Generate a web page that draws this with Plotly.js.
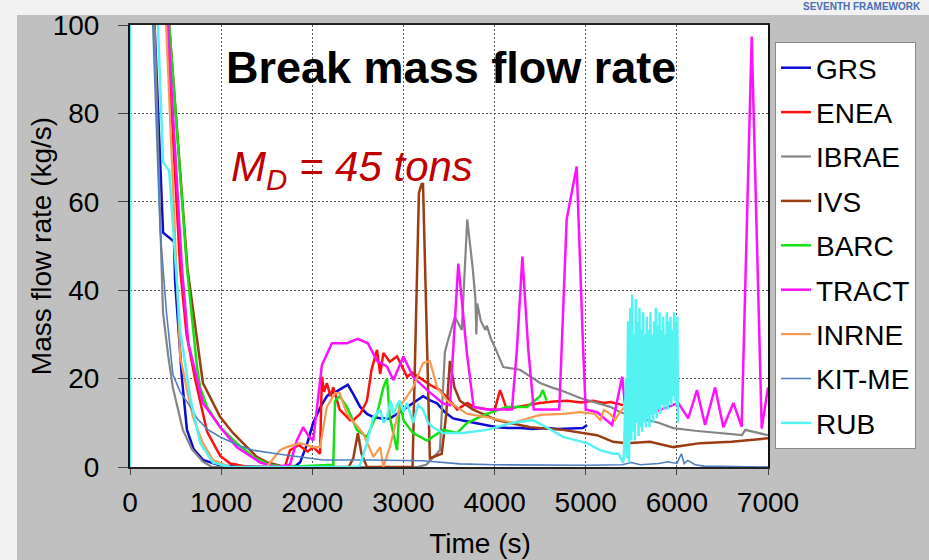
<!DOCTYPE html>
<html>
<head>
<meta charset="utf-8">
<script src="https://cdn.plot.ly/plotly-3.0.1.min.js"></script>
<style>html,body{margin:0;padding:0;background:#c0c0c0;}#chart{width:929px;height:560px;}</style>
</head>
<body>
<div id="chart"></div>
<script>
// ---------- data (time in s, mass flow rate in kg/s) ----------
const seriesNames = ['GRS', 'ENEA', 'IBRAE', 'IVS', 'BARC', 'TRACT', 'INRNE', 'KIT-ME', 'RUB'];

const grsT = [210, 270, 363, 483, 495, 570, 625, 700, 800, 1000, 1500, 1800, 1865, 1940, 2010, 2100, 2160, 2195, 2260, 2300, 2390, 2450, 2525, 2600, 2670, 2760, 2850, 2930, 3000, 3100, 3215, 3300, 3370, 3450, 3545, 3650, 3765, 3900, 4025, 4150, 4280, 4420, 4570, 4700, 4850, 4970, 5015];
const grsV = [130, 100, 53, 51, 42, 20, 8.4, 4, 1.6, 0.3, 0, 0, 1, 5, 10, 14, 16, 16.7, 17, 17.5, 18.6, 16.5, 13.6, 12, 11.3, 11, 11, 12, 13, 14.5, 16, 15, 14.4, 12.5, 11, 10.5, 10, 9.5, 9, 8.8, 8.8, 8.6, 8.8, 8.6, 8.8, 8.8, 9.5];

const eneaT = [345, 405, 550, 620, 713, 845, 990, 1100, 1300, 1700, 1755, 1850, 1950, 2010, 2085, 2105, 2130, 2160, 2200, 2230, 2300, 2415, 2450, 2525, 2600, 2650, 2710, 2745, 2780, 2850, 2930, 3040, 3100, 3215, 3300, 3400, 3510, 3590, 3700, 3780, 3915, 4000, 4060, 4135, 4250, 4350, 4500, 4650, 4795, 4950, 5080, 5200, 5270, 5410];
const eneaV = [130, 100, 45, 30, 20, 8, 2.5, 0.8, 0, 0, 3.8, 5, 3.5, 4.5, 3, 20.4, 17, 19, 16, 18, 13, 10.6, 10.6, 12, 15, 22, 26.5, 21, 25.8, 23.8, 25, 20.4, 21.3, 19.7, 18.5, 17.4, 15, 13, 14.5, 13.5, 13, 12.8, 17.4, 13, 13.6, 14, 14.5, 14.8, 15, 14.6, 15, 14.5, 14.7, 14];

const ibraeT = [210, 270, 340, 362, 420, 470, 580, 680, 800, 900, 3150, 3250, 3400, 3455, 3480, 3545, 3565, 3640, 3700, 3760, 3790, 3800, 3810, 3850, 3900, 3915, 3960, 4005, 4095, 4280, 4500, 4640, 4720, 4940, 5270, 5380, 5600, 5800, 5960, 6200, 6500, 6715, 6750, 7000];
const ibraeV = [130, 100, 50, 35, 25, 18, 8.4, 4, 1.2, 0, 0, 0.5, 3.8, 26, 28, 33, 34, 31, 56, 45, 38, 30, 37, 33, 31, 32, 29, 27, 22.6, 22, 19, 17.9, 17.4, 15.6, 13.6, 12.4, 11, 10, 8.8, 8.2, 7.6, 7.2, 8.4, 7.2];

const ivsT = [370, 430, 630, 800, 990, 1130, 1240, 1390, 1500, 1700, 2400, 2450, 2500, 2540, 2600, 3100, 3170, 3200, 3215, 3290, 3420, 3470, 3510, 3560, 3620, 3765, 4025, 4390, 4750, 5125, 5300, 5450, 5705, 5960, 6255, 6600, 7000];
const ivsV = [130, 100, 45, 19, 11.3, 7.7, 5.4, 2.3, 1.1, 0, 0, 2, 7.7, 3, 0, 0, 62, 64, 64, 2, 3, 12, 24, 18, 15, 13, 10.6, 9, 8.4, 7.2, 5.7, 5.4, 5.7, 4.5, 5.4, 5.7, 6.5];

const barcT = [370, 430, 625, 735, 770, 845, 990, 1170, 1350, 1535, 1700, 2230, 2250, 2300, 2380, 2490, 2600, 2710, 2780, 2820, 2850, 2930, 2960, 3000, 3105, 3260, 3435, 3590, 3700, 3915, 4135, 4355, 4500, 4530, 4570];
const barcV = [130, 100, 45, 22.6, 18, 13.6, 9, 5.4, 2.3, 0.5, 0, 0.5, 15, 16, 13.6, 8.4, 6.8, 12, 18, 20, 11.3, 3.8, 15, 10.6, 7.7, 6, 8.4, 7.7, 10, 12, 13.6, 13.6, 16, 17.4, 15];

const tractT = [355, 415, 570, 640, 800, 990, 1170, 1430, 1600, 1755, 1830, 1900, 1960, 2010, 2105, 2215, 2380, 2500, 2610, 2710, 2820, 2890, 3000, 3105, 3260, 3435, 3510, 3545, 3602, 3695, 3770, 3915, 4190, 4245, 4305, 4370, 4430, 4600, 4710, 4791, 4901, 4972, 5000, 5125, 5290, 5400, 5450, 5700, 6015, 6125, 6220, 6310, 6420, 6510, 6620, 6711, 6821, 6931, 7000];
const tractV = [130, 100, 45, 28, 14.5, 9, 4.5, 1, 0, 0.5, 6, 9, 7, 6, 23, 28, 28, 29, 28, 24, 22.7, 19.7, 25, 20.4, 17.4, 14.4, 14, 26, 46, 26, 13.6, 13, 13, 26.5, 47.6, 26.5, 13, 13, 13, 56, 68, 26.5, 13, 12.4, 9.5, 20.4, 10, 12, 14.5, 11, 17.4, 9.5, 18, 9, 14.5, 9.1, 97.4, 8.7, 18];

const inrneT = [335, 395, 510, 550, 625, 690, 800, 910, 1100, 1500, 1645, 1720, 1865, 2010, 2085, 2160, 2250, 2300, 2380, 2555, 2670, 2745, 2780, 2850, 2960, 3105, 3215, 3290, 3370, 3480, 3700, 3915, 4200, 4500, 4750, 4940, 5100, 5160, 5200, 5270, 5320, 5380, 5430];
const inrneV = [130, 100, 45, 25, 17.4, 11.3, 5.4, 1.6, 0, 0, 3.8, 4.5, 5.4, 4.5, 4.5, 13.6, 16.7, 16.7, 12, 7.7, 2.3, 4.5, 0, 4.5, 13.6, 18, 23.5, 24, 18, 15, 12, 11.3, 10, 11.8, 12, 12.4, 12, 10.6, 12.9, 12, 10.6, 12.5, 13.6];

const kitT = [190, 250, 330, 400, 470, 550, 650, 735, 850, 990, 1200, 1350, 1645, 2120, 2630, 3215, 3620, 4000, 5000, 5400, 5500, 5600, 5800, 5900, 6000, 6050, 6080, 6120, 6200, 6300, 7000];
const kitV = [130, 100, 53.6, 35, 21, 17, 14, 11, 8.5, 6.8, 4.8, 3.8, 2.9, 1.6, 1.6, 1.4, 0.7, 0.5, 0.4, 0.5, 1, 0.5, 0.8, 1.2, 0.8, 3, 0.8, 1.5, 0.5, 0.2, 0];

const rubT = [0, 0, 307, 363, 430, 505, 550, 660, 770, 910, 1100, 2500, 2525, 2600, 2670, 2745, 2780, 2820, 2860, 2890, 2930, 2960, 3000, 3040, 3105, 3160, 3215, 3270, 3325, 3435, 3655, 3915, 4200, 4420, 4570, 4750, 5015, 5155, 5300, 5360, 5410,
  5420, 5440, 5450, 5465, 5475, 5490, 5500, 5510, 5520, 5530, 5540, 5550, 5560, 5570, 5580, 5590, 5600, 5610, 5620, 5630, 5640, 5650, 5660, 5670, 5680, 5690, 5700, 5710, 5720, 5730, 5740, 5750, 5760, 5770, 5780, 5790, 5800, 5810, 5820, 5830, 5840, 5850, 5860, 5870, 5880, 5890, 5900, 5910, 5920, 5930, 5940, 5950, 5960, 5970, 5980, 5990, 6000, 6005, 6012];
const rubV = [0, 160, 100, 69, 67, 45, 31, 15.8, 5.4, 1, 0, 0, 0.5, 5.4, 11.3, 13, 10, 11.3, 15, 12, 14, 15, 12.5, 14.5, 10, 14, 13, 10, 9, 7.7, 7.7, 8.4, 10, 10.6, 9, 6.8, 5.4, 3.8, 3, 3, 1,
  3, 20, 2, 33, 1, 36, 6, 39, 8, 30, 6, 38, 10, 33, 7, 36, 9, 31, 8, 35, 10, 30, 9, 34, 11, 31, 9, 35, 12, 30, 10, 33, 12, 36, 11, 32, 13, 35, 12, 31, 14, 34, 13, 30, 14, 35, 13, 33, 15, 34, 14, 31, 16, 35, 15, 33, 14, 34, 10];

const seriesT = [grsT, eneaT, ibraeT, ivsT, barcT, tractT, inrneT, kitT, rubT];
const seriesV = [grsV, eneaV, ibraeV, ivsV, barcV, tractV, inrneV, kitV, rubV];
const seriesColors = ['#0b0bd2', '#ff1010', '#858585', '#9b3c12', '#14e014', '#ff10ff', '#f59a50', '#4f7fc0', '#55f2f2'];
const seriesWidths = [2.5, 2.5, 2.2, 2.5, 2.5, 2.5, 2.2, 1.6, 2.5];

const xTickVals = [0, 1000, 2000, 3000, 4000, 5000, 6000, 7000];
const yTickVals = [0, 20, 40, 60, 80, 100];

// ---------- chart ----------
const FONT = 'Arial, "Liberation Sans", Helvetica, sans-serif';
const traces = seriesNames.map((name, i) => ({
  type: 'scatter', mode: 'lines', name: name, legendgroup: name,
  x: seriesT[i], y: seriesV[i],
  line: {color: seriesColors[i], width: seriesWidths[i]}
}));

const layout = {
  width: 929, height: 560,
  margin: {l: 130, r: 161, t: 25, b: 93},
  paper_bgcolor: '#c0c0c0', plot_bgcolor: '#ffffff',
  font: {family: FONT, color: '#000'},
  showlegend: true,
  legend: {
    xref: 'container', yref: 'container', x: 775 / 929, y: 1 - 42 / 560,
    xanchor: 'left', yanchor: 'top', bgcolor: '#ffffff', bordercolor: '#8a8a8a', borderwidth: 1,
    font: {family: FONT, size: 28, color: '#000'}, traceorder: 'grouped', tracegroupgap: 5, itemwidth: 30,
    maxheight: 520
  },
  xaxis: {
    range: [0, 7000], tickvals: xTickVals, ticks: 'outside', ticklen: 6, tickcolor: '#444',
    showgrid: true, gridcolor: '#555', griddash: '2px,2px', gridwidth: 1, zeroline: false,
    showline: true, mirror: true, linecolor: '#222', linewidth: 2,
    tickfont: {family: FONT, size: 28, color: '#000'}, ticklabelstandoff: 3,
    title: {text: 'Time (s)', font: {family: FONT, size: 28, color: '#000'}, standoff: 17}
  },
  yaxis: {
    range: [0, 100], tickvals: yTickVals, ticks: 'outside', ticklen: 10, tickcolor: '#444',
    showgrid: true, gridcolor: '#555', griddash: '2px,2px', gridwidth: 1, zeroline: false,
    showline: true, mirror: true, linecolor: '#111', linewidth: 2, layer: 'below traces',
    tickfont: {family: FONT, size: 28, color: '#000'}, ticklabelstandoff: 13,
    title: {text: 'Mass flow rate (kg/s)', font: {family: FONT, size: 28, color: '#000'}, standoff: 0}
  },
  shapes: [
    {type: 'rect', xref: 'paper', yref: 'paper', x0: -130 / 638, x1: 799 / 638, y0: 1 + 10 / 442, y1: 1 + 26 / 442, fillcolor: '#f2f2f2', line: {width: 0}, layer: 'below'},
    {type: 'rect', xref: 'paper', yref: 'paper', x0: -130 / 638, x1: -113 / 638, y0: -93 / 442, y1: 1 + 26 / 442, fillcolor: '#f2f2f2', line: {width: 0}, layer: 'below'}
  ],
  annotations: [
    {xref: 'paper', yref: 'paper', x: 0.503, y: 0.903, xanchor: 'center', yanchor: 'middle', showarrow: false,
     text: '<b>Break mass flow rate</b>', font: {family: FONT, size: 45, color: '#000'}},
    {xref: 'paper', yref: 'paper', x: 0.348, y: 0.672, xanchor: 'center', yanchor: 'middle', showarrow: false,
     text: '<i>M<sub>D</sub> = 45 tons</i>', font: {family: FONT, size: 42, color: '#c00000'}},
    {xref: 'paper', yref: 'paper', x: (862 - 130) / 638, y: 1 + 11 / 442, xanchor: 'center', yanchor: 'bottom', showarrow: false,
     text: '<b>SEVENTH FRAMEWORK</b>', font: {family: FONT, size: 10, color: '#4a6fb5'}}
  ]
};

Plotly.newPlot('chart', traces, layout, {displayModeBar: false, staticPlot: true}).then(() => {
  const xt = document.querySelector('.g-xtitle');
  if (xt) { xt.setAttribute('transform', 'translate(31,0)'); }
  const yt = document.querySelector('.g-ytitle');
  if (yt) { yt.setAttribute('transform', 'translate(7,0)'); }
});
</script>
</body>
</html>
